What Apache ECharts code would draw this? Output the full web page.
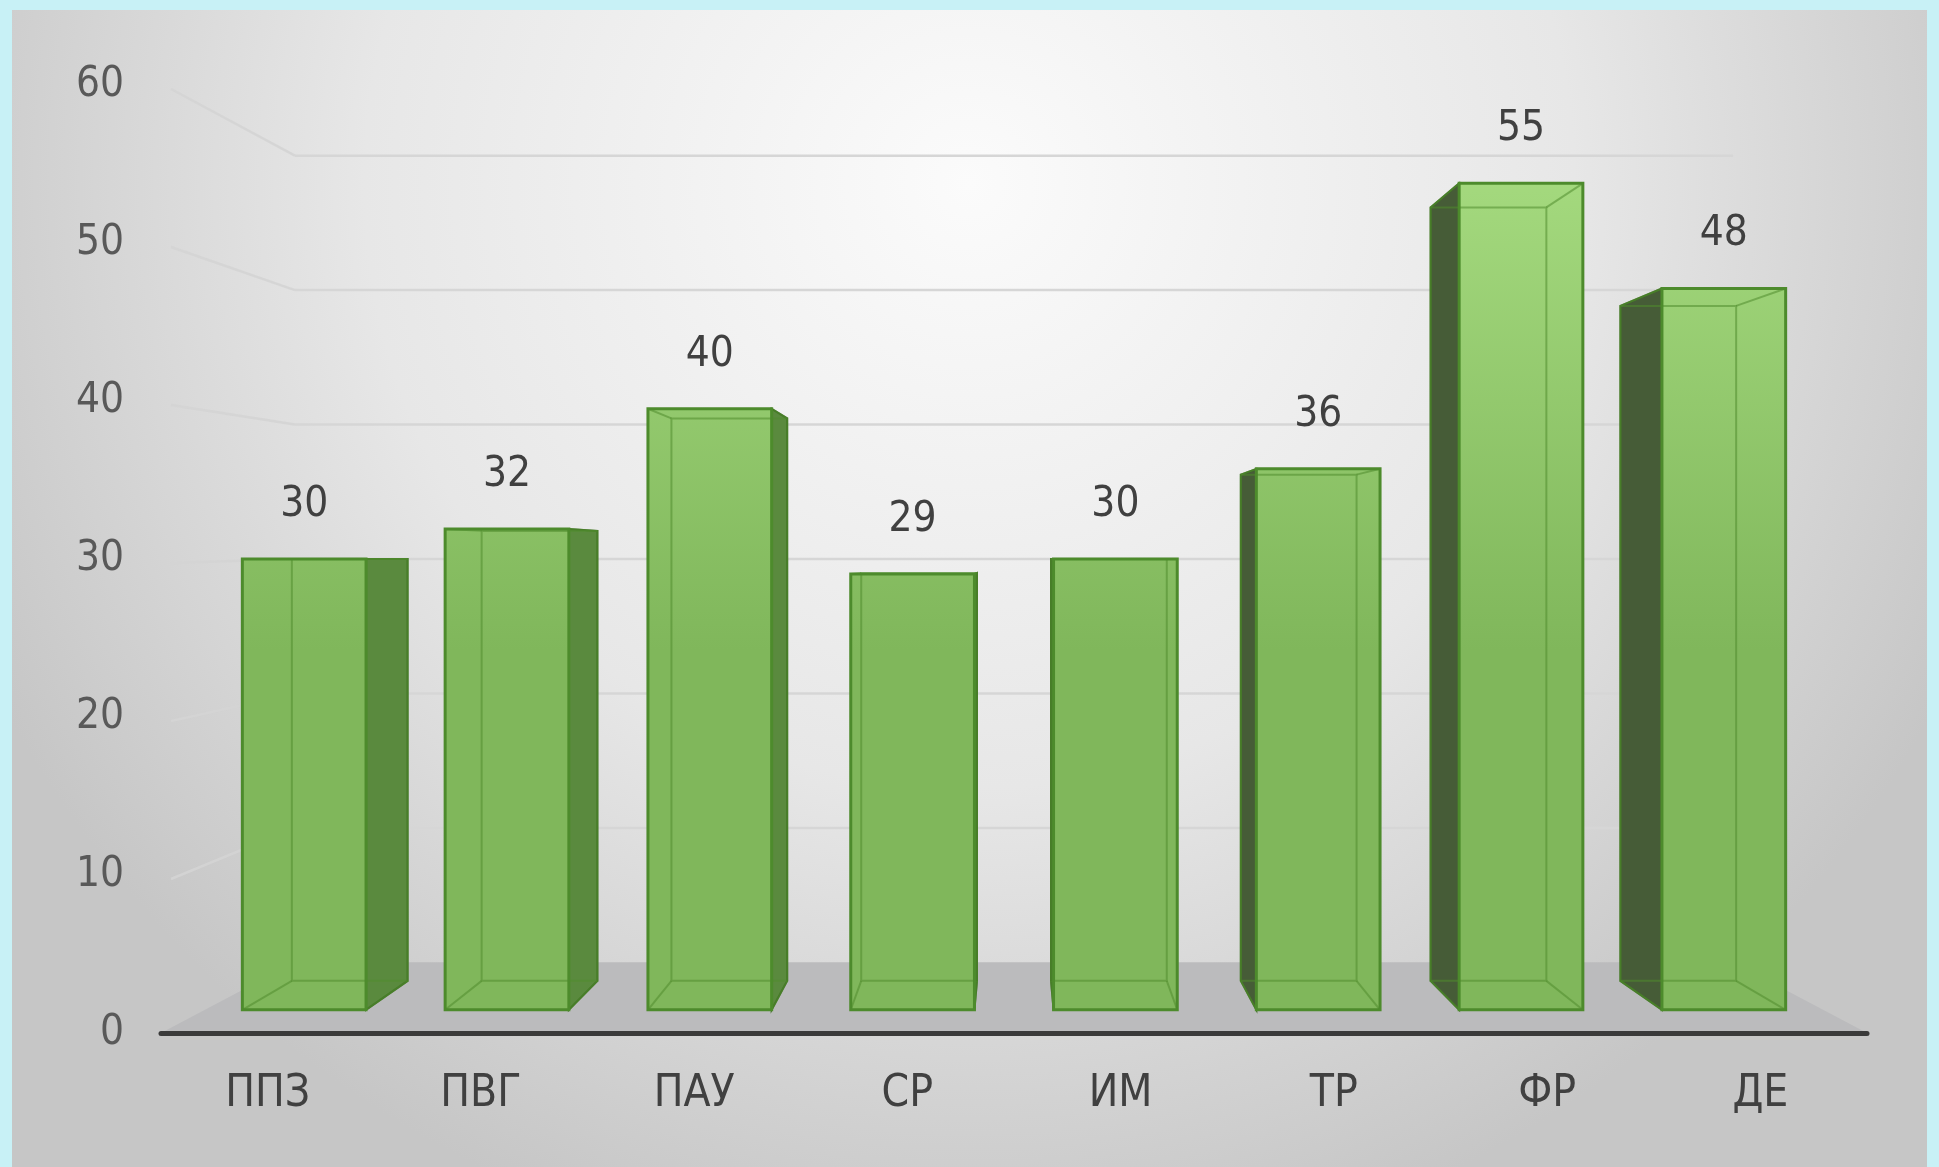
<!DOCTYPE html>
<html>
<head>
    <meta charset="UTF-8">
    <title>Диаграмма</title>
    <script src="https://cdn.jsdelivr.net/npm/echarts@6/dist/echarts.min.js"></script>
    <style>
        html, body { margin: 0; padding: 0; background: #c8f1f6; }
        #chart { width: 1939px; height: 1167px; }
    </style>
</head>
<body>
<div id="chart"></div>
<script>
    // данные
    var categories = ['ППЗ', 'ПВГ', 'ПАУ', 'СР', 'ИМ', 'ТР', 'ФР', 'ДЕ'];
    var values = [30, 32, 40, 29, 30, 36, 55, 48];
    var yTicks = [10, 20, 30, 40, 50, 60];

    // псевдо-3D: масштаб глубины относительно точки схода
    var VP_VALUE = 30;
    var S_WALL_X = 0.843, S_WALL_Y = 0.851;
    var S_BAR_BACK = 0.89;
    var S_BAR_FRONT = 0.951;
    var BAR_RATIO = 0.61;
    var FONT = "'Liberation Sans Narrow', 'DejaVu Sans Condensed', sans-serif";

    function proj(p, vp, sx, sy) {
        if (sy === undefined) sy = sx;
        return [vp[0] + (p[0] - vp[0]) * sx, vp[1] + (p[1] - vp[1]) * sy];
    }

    function vanish(api) {
        var half = api.size([1, 0])[0] / 2;
        var left = api.coord([0, 0])[0] - half;
        var right = api.coord([categories.length - 1, 0])[0] + half;
        return [(left + right) / 2, api.coord([0, VP_VALUE])[1]];
    }

    function renderWalls(params, api) {
        var vp = vanish(api);
        var half = api.size([1, 0])[0] / 2;
        var L = api.coord([0, 0])[0] - half;
        var R = api.coord([categories.length - 1, 0])[0] + half;
        var y0 = api.coord([0, 0])[1];
        var children = [];
        // пол
        children.push({
            type: 'polygon',
            shape: { points: [[L, y0], [R, y0], proj([R, y0], vp, S_WALL_X, S_WALL_Y), proj([L, y0], vp, S_WALL_X, S_WALL_Y)] },
            style: { fill: '#bbbbbd' }
        });
        yTicks.forEach(function (v) {
            var y = api.coord([0, v])[1];
            var bl = proj([L, y], vp, S_WALL_X, S_WALL_Y);
            var br = proj([R, y], vp, S_WALL_X, S_WALL_Y);
            children.push({
                type: 'line',
                shape: { x1: L + 10, y1: y + 4, x2: bl[0], y2: bl[1] },
                style: { stroke: 'rgba(212,212,212,0.9)', lineWidth: 2.5 }
            });
            children.push({
                type: 'line',
                shape: { x1: bl[0], y1: bl[1], x2: br[0], y2: br[1] },
                style: { stroke: '#d6d6d6', lineWidth: 2.5 }
            });
        });
        return { type: 'group', children: children };
    }

    function renderBar(params, api) {
        var vp = vanish(api);
        var idx = api.value(0);
        var val = api.value(1);
        var c = api.coord([idx, 0]);
        var top = api.coord([idx, val])[1];
        var bw = api.size([1, 0])[0] * BAR_RATIO;
        var x1 = c[0] - bw / 2, x2 = c[0] + bw / 2, yb = c[1];
        var pts = [[x1, top], [x2, top], [x2, yb], [x1, yb]];
        var F = pts.map(function (p) { return proj(p, vp, S_BAR_FRONT); });
        var B = pts.map(function (p) { return proj(p, vp, S_BAR_BACK); });
        var leftOfVp = c[0] < vp[0];
        var side = leftOfVp ? [F[1], B[1], B[2], F[2]] : [F[0], B[0], B[3], F[3]];
        var grad = { type: 'linear', x: 0, y: 150, x2: 0, y2: 650, global: true,
            colorStops: [{ offset: 0, color: '#a6db80' }, { offset: 1, color: '#80b75b' }] };
        var children = [];
        children.push({
            type: 'polygon', shape: { points: side },
            style: { fill: leftOfVp ? '#5a8a3e' : '#465c37', stroke: '#3f6e24', lineWidth: 2 }
        });
        children.push({
            type: 'polygon', shape: { points: F },
            style: { fill: grad }
        });
        // задние рёбра, видимые сквозь прозрачную грань
        var inner = 'rgba(80,140,45,0.55)';
        children.push({ type: 'polygon', shape: { points: B }, style: { fill: 'none', stroke: inner, lineWidth: 2 } });
        for (var i = 0; i < 4; i++) {
            children.push({ type: 'line', shape: { x1: F[i][0], y1: F[i][1], x2: B[i][0], y2: B[i][1] },
                style: { stroke: inner, lineWidth: 2 } });
        }
        children.push({
            type: 'polygon', shape: { points: F },
            style: { fill: 'none', stroke: '#4d8b2c', lineWidth: 3 }
        });
        children.push({
            type: 'text',
            style: {
                x: (F[0][0] + F[1][0]) / 2, y: F[0][1] - 54,
                text: String(val), align: 'center', verticalAlign: 'middle',
                fontSize: 42, fontFamily: FONT, fill: '#404040'
            }
        });
        return { type: 'group', children: children };
    }

    var chart = echarts.init(document.getElementById('chart'));
    var option = {
        backgroundColor: '#c8f1f6',
        animation: false,
        graphic: [{
            type: 'rect', z: -10, silent: true,
            shape: { x: 12, y: 10, width: 1915, height: 1157 },
            style: {
                fill: { type: 'radial', x: 0.5, y: 0.15, r: 0.95,
                    colorStops: [{ offset: 0, color: '#fbfbfb' }, { offset: 0.55, color: '#e7e7e7' }, { offset: 1, color: '#c6c6c6' }] }
            }
        }],
        grid: { left: 161, right: 72, top: 85, bottom: 134 },
        xAxis: {
            type: 'category',
            data: categories,
            axisLine: { lineStyle: { color: '#3a3a3a', width: 5 } },
            axisTick: { show: false },
            axisLabel: { fontSize: 44, fontFamily: FONT, color: '#404040', margin: 40 },
            z: 5
        },
        yAxis: {
            type: 'value', min: 0, max: 60, interval: 10,
            axisLine: { show: false }, axisTick: { show: false },
            splitLine: { show: false },
            axisLabel: { fontSize: 42, fontFamily: FONT, color: '#595959', margin: 37 }
        },
        series: [
            { type: 'custom', silent: true, z: 1, renderItem: renderWalls, data: [[0, 0]] },
            {
                type: 'custom', z: 3, renderItem: renderBar,
                encode: { x: 0, y: 1 },
                data: values.map(function (v, i) { return [i, v]; })
            }
        ]
    };
    chart.setOption(option);
</script>
</body>
</html>
